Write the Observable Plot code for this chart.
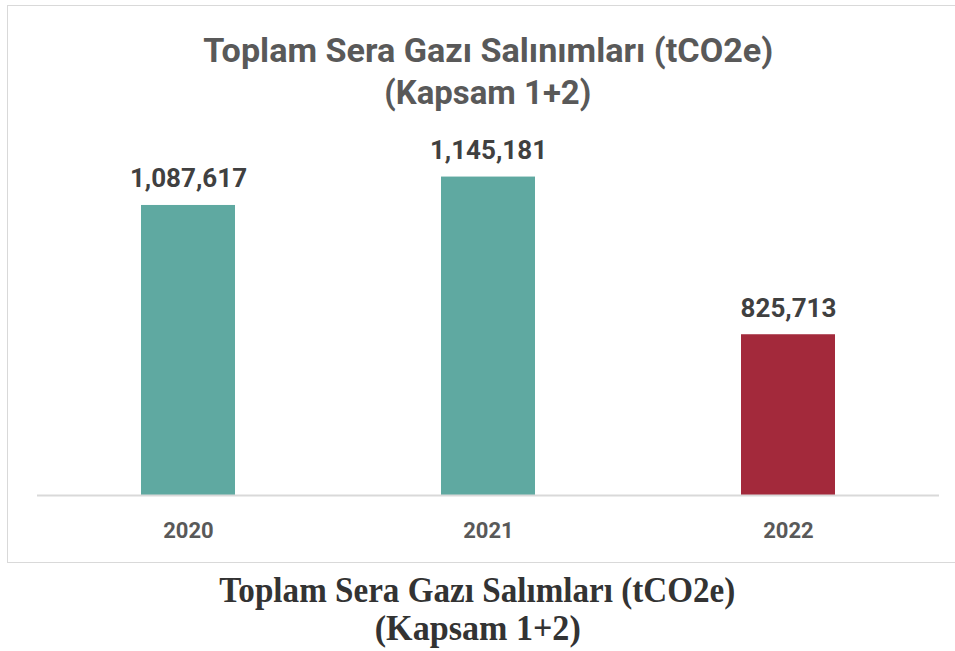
<!DOCTYPE html>
<html>
<head>
<meta charset="utf-8">
<script src="https://cdn.jsdelivr.net/npm/d3@7"></script>
<script src="https://cdn.jsdelivr.net/npm/@observablehq/plot@0.6"></script>
<style>
  html, body { margin: 0; padding: 0; background: #fff; width: 955px; height: 651px; overflow: hidden; position: relative; }
  #frame { position: absolute; left: 7px; top: 5px; width: 962px; height: 558px; box-sizing: border-box; border: 1.5px solid #d9d9d9; }
  .line { position: absolute; left: 0; width: 976px; text-align: center; white-space: nowrap; }
  .line span { display: inline-block; transform-origin: 50% 50%; }
  .title { font-family: Roboto, "Open Sans", sans-serif; font-weight: 700; font-size: 33px; line-height: 42px; color: #595959; }
  .caption { font-family: "Liberation Serif", "DejaVu Serif", serif; font-weight: 700; font-size: 36px; line-height: 38px; color: #333333; }
  #chart { position: absolute; left: 0; top: 120px; }
</style>
</head>
<body>
<div id="frame"></div>
<div class="line title" style="top:30px"><span data-w="570">Toplam Sera Gazı Salınımları (tCO2e)</span></div>
<div class="line title" style="top:72px"><span data-w="207">(Kapsam 1+2)</span></div>
<div id="chart"></div>
<div class="line caption" style="top:571px; width:955px; left:0"><span data-w="516">Toplam Sera Gazı Salımları (tCO2e)</span></div>
<div class="line caption" style="top:609px; width:955px; left:0"><span data-w="206">(Kapsam 1+2)</span></div>
<script>
// ---- data ----
const years = ["2020", "2021", "2022"];
const emissions = [1087617, 1145181, 825713];
const yAxisMin = 500000;
const yAxisMax = 1200000;

const data = years.map((year, i) => ({year, value: emissions[i]}));
const fmt = d3.format(",");

const chart = Plot.plot({
  width: 955,
  height: 430,
  marginTop: 29.5,
  marginBottom: 55,
  marginLeft: 37,
  marginRight: 16,
  style: {background: "transparent", fontFamily: "Roboto, sans-serif"},
  x: {domain: years, paddingInner: 0.687, paddingOuter: 0.3435, label: null},
  y: {domain: [yAxisMin, yAxisMax], axis: null},
  color: {domain: years, range: ["#5fa9a1", "#5fa9a1", "#a3293b"]},
  marks: [
    Plot.barY(data, {x: "year", y1: yAxisMin, y2: "value", fill: "year"}),
    Plot.ruleY([yAxisMin], {stroke: "#d9d9d9", strokeWidth: 2}),
    Plot.text(data, {x: "year", y: "value", text: d => fmt(d.value), lineAnchor: "bottom", dy: -18,
      fontSize: 26, fontWeight: "bold", fill: "#404040", fontFamily: "Roboto, sans-serif"}),
    Plot.axisX({tickSize: 0, tickPadding: 27, fontSize: 22, fontWeight: "bold", color: "#595959",
      fontFamily: "Roboto, sans-serif", label: null})
  ]
});
document.getElementById("chart").appendChild(chart);

// fit text lines to measured widths
document.querySelectorAll(".line span").forEach(s => {
  const w = s.getBoundingClientRect().width;
  const target = +s.dataset.w;
  if (w > 0) s.style.transform = `scaleX(${target / w})`;
});
</script>
</body>
</html>
